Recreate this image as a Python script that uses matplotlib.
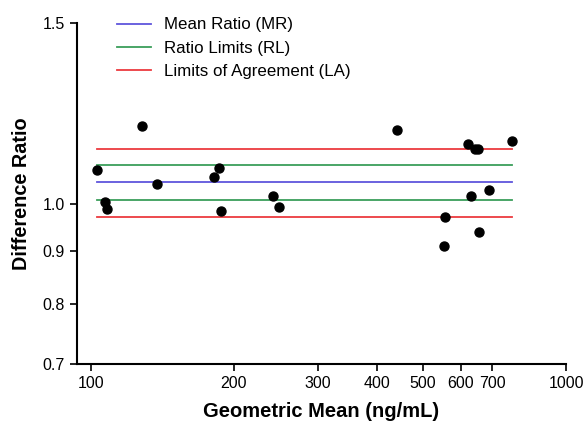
import numpy as np
import matplotlib
matplotlib.use('Agg')
import matplotlib.pyplot as plt
from matplotlib.ticker import FixedLocator, FixedFormatter, NullLocator

plt.rcParams['font.family'] = ['Liberation Sans', 'DejaVu Sans']

# Geometric mean (ng/mL) and difference ratio for each sample
geo_mean = [102.8, 107.0, 108.2, 127.9, 137.9, 181.8, 186.3, 188.3, 242.2, 248.9,
            440.0, 623.0, 643.0, 653.0, 771.0, 632.0, 688.0, 557.0, 553.0, 656.0]
diff_ratio = [1.079, 1.004, 0.990, 1.190, 1.046, 1.063, 1.085, 0.985, 1.018, 0.993,
              1.180, 1.143, 1.132, 1.132, 1.152, 1.019, 1.033, 0.972, 0.911, 0.941]

mean_ratio = 1.051
ratio_limits = [1.0105, 1.091]
agree_limits = [0.972, 1.131]

xticks = [100, 200, 300, 400, 500, 600, 700, 1000]
xticklabels = ['100', '200', '300', '400', '500', '600', '700', '1000']
yticks = [0.7, 0.8, 0.9, 1.0, 1.5]
yticklabels = ['0.7', '0.8', '0.9', '1.0', '1.5']

fig = plt.figure(figsize=(5.86, 4.24), dpi=100)
ax = fig.add_axes([0.131, 0.1415, 0.835, 0.805])

xmin, xmax = min(geo_mean), max(geo_mean)
ax.plot([xmin, xmax], [mean_ratio]*2, color='#5f55dc', lw=1.3, label='Mean Ratio (MR)')
ax.plot([xmin, xmax], [ratio_limits[0]]*2, color='#3a9e5a', lw=1.3, label='Ratio Limits (RL)')
ax.plot([xmin, xmax], [ratio_limits[1]]*2, color='#3a9e5a', lw=1.3)
ax.plot([xmin, xmax], [agree_limits[0]]*2, color='#ec3a3f', lw=1.3, label='Limits of Agreement (LA)')
ax.plot([xmin, xmax], [agree_limits[1]]*2, color='#ec3a3f', lw=1.3)

ax.scatter(geo_mean, diff_ratio, s=42, color='black', zorder=3)

ax.set_xscale('log')
ax.set_yscale('log')
ax.set_xlim(93.4, 1000)
ax.set_ylim(0.7, 1.5)

ax.xaxis.set_major_locator(FixedLocator(xticks))
ax.xaxis.set_major_formatter(FixedFormatter(xticklabels))
ax.xaxis.set_minor_locator(NullLocator())
ax.yaxis.set_major_locator(FixedLocator(yticks))
ax.yaxis.set_major_formatter(FixedFormatter(yticklabels))
ax.yaxis.set_minor_locator(NullLocator())

for s in ['top', 'right']:
    ax.spines[s].set_visible(False)
for s in ['left', 'bottom']:
    ax.spines[s].set_linewidth(1.5)
ax.tick_params(direction='out', length=5, width=1.2, labelsize=11.5)

ax.set_xlabel('Geometric Mean (ng/mL)', fontsize=14.5, fontweight='bold', labelpad=8)
ax.set_ylabel('Difference Ratio', fontsize=14.3, fontweight='bold', labelpad=8)

ax.legend(loc='upper left', bbox_to_anchor=(0.052, 1.06), frameon=False,
          fontsize=12.2, handlelength=2.0, handletextpad=0.75, labelspacing=0.49)

fig.savefig('out.png', dpi=100)
